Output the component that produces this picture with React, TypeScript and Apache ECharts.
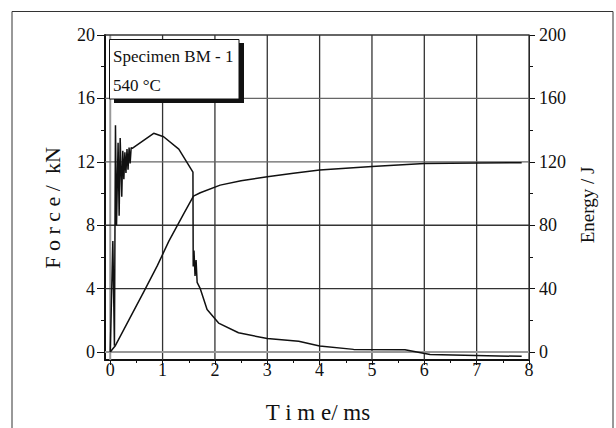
import React, { useEffect, useRef } from "react";
import * as echarts from "echarts";

// Force curve (kN) vs time (ms)
const forceTime = [
  0, 0.05, 0.08, 0.1, 0.12, 0.15, 0.17, 0.19, 0.22, 0.24, 0.26, 0.28, 0.3, 0.32, 0.34, 0.36, 0.38, 0.4,
  0.42, 0.83, 1.02, 1.31, 1.58, 1.585, 1.6, 1.62, 1.64, 1.66, 1.72, 1.85, 2.07, 2.45, 3.0, 3.6, 4.0,
  4.65, 5.63, 6.11, 7.86,
];
const forceValues = [
  0, 7.0, 0.4, 14.3, 8.0, 13.2, 8.6, 13.5, 9.8, 12.7, 10.9, 12.6, 11.3, 12.8, 11.5, 12.9, 11.9, 12.9,
  12.85, 13.8, 13.58, 12.8, 11.35, 5.4, 6.4, 4.8, 5.8, 4.4, 4.0, 2.68, 1.83, 1.22, 0.85, 0.68, 0.38,
  0.17, 0.15, -0.16, -0.27,
];

// Energy curve (J) vs time (ms)
const energyTime = [0, 0.1, 0.4, 0.64, 0.9, 1.12, 1.4, 1.59, 1.72, 2.1, 2.5, 3.0, 3.5, 4.0, 4.5, 5.0, 5.5, 6.0, 7.0, 7.86];
const energyValues = [0, 4.2, 23, 38, 54.5, 70, 87, 98.4, 100.5, 105.3, 108, 110.6, 112.8, 114.8, 116, 117, 118, 118.9, 119.3, 119.4];

// Tick values
const timeTicks = [0, 1, 2, 3, 4, 5, 6, 7, 8];
const timeMinorTicks = [0.5, 1.5, 2.5, 3.5, 4.5, 5.5, 6.5, 7.5];
const forceTicks = [0, 4, 8, 12, 16, 20];
const forceMinorTicks = [2, 6, 10, 14, 18];
const energyTicks = [0, 40, 80, 120, 160, 200];
const energyMinorTicks = [20, 60, 100, 140, 180];

const legendLine1 = "Specimen BM - 1";
const legendLine2 = "540 °C";

const FONT = "Liberation Serif";
const INK = "#111";
const X_MIN = -0.1;
const X_MAX = 8;
const F_MIN = -0.5;
const F_MAX = 20;

export default function App() {
  const ref = useRef<HTMLDivElement>(null);

  useEffect(() => {
    if (!ref.current) return;
    const chart = echarts.init(ref.current, null, { renderer: "svg" });

    const forceData = forceTime.map((t, i) => [t, forceValues[i]]);
    const energyData = energyTime.map((t, i) => [t, energyValues[i]]);

    const labelStyle = { fontSize: 18, fontFamily: FONT, color: INK };

    // grid lines drawn by a custom series, through the axis scales
    const gridRender = (params: any, api: any) => {
      if (params.dataIndex !== 0) return null;
      const children: any[] = [];
      timeTicks.forEach((v) => {
        const p1 = api.coord([v, F_MIN]);
        const p2 = api.coord([v, F_MAX]);
        children.push({
          type: "line",
          shape: { x1: p1[0], y1: p1[1], x2: p2[0], y2: p2[1] },
          style: { stroke: v === 0 ? "#999" : "#333", lineWidth: v === 0 ? 2 : 1.3 },
        });
      });
      forceTicks.forEach((v) => {
        const p1 = api.coord([X_MIN, v]);
        const p2 = api.coord([X_MAX, v]);
        children.push({
          type: "line",
          shape: { x1: p1[0], y1: p1[1], x2: p2[0], y2: p2[1] },
          style: { stroke: v === 0 ? "#999" : v === 12 || v === 16 ? "#666" : "#333", lineWidth: v === 0 ? 2 : 1.3 },
        });
      });
      return { type: "group", children };
    };

    const minorAxis = (min: number, max: number, position: string, values: number[], length: number) => ({
      type: "value",
      min,
      max,
      position,
      axisLine: { show: false, onZero: false },
      axisTick: { show: true, length, customValues: values, lineStyle: { color: INK, width: 1 } },
      axisLabel: { show: false },
      splitLine: { show: false },
    });

    chart.setOption({
      animation: false,
      grid: { left: 105, right: 87, top: 35, bottom: 68, containLabel: false },
      xAxis: [
        {
          type: "value",
          min: X_MIN,
          max: X_MAX,
          position: "bottom",
          axisLine: { show: true, onZero: false, lineStyle: { color: INK, width: 2 } },
          axisTick: { show: true, length: 5, customValues: timeTicks, lineStyle: { color: INK, width: 1 } },
          axisLabel: { show: true, customValues: timeTicks, margin: 1, ...labelStyle },
          splitLine: { show: false },
        },
        minorAxis(X_MIN, X_MAX, "bottom", timeMinorTicks, 3),
      ],
      yAxis: [
        {
          type: "value",
          min: F_MIN,
          max: F_MAX,
          position: "left",
          axisLine: { show: true, onZero: false, lineStyle: { color: INK, width: 2 } },
          axisTick: { show: true, length: 8, customValues: forceTicks, lineStyle: { color: INK, width: 1 } },
          axisLabel: { show: true, customValues: forceTicks, margin: 10, ...labelStyle },
          splitLine: { show: false },
        },
        minorAxis(F_MIN, F_MAX, "left", forceMinorTicks, 4),
        {
          type: "value",
          min: -5,
          max: 200,
          position: "right",
          axisLine: { show: true, onZero: false, lineStyle: { color: INK, width: 1 } },
          axisTick: { show: true, length: 6, customValues: energyTicks, lineStyle: { color: INK, width: 1 } },
          axisLabel: { show: true, customValues: energyTicks, margin: 10, ...labelStyle },
          splitLine: { show: false },
        },
        minorAxis(-5, 200, "right", energyMinorTicks, 4),
      ],
      series: [
        {
          name: "grid",
          type: "custom",
          xAxisIndex: 0,
          yAxisIndex: 0,
          silent: true,
          clip: false,
          z: 1,
          data: [[0, 0]],
          renderItem: gridRender,
        },
        {
          name: "Force",
          type: "line",
          xAxisIndex: 0,
          yAxisIndex: 0,
          data: forceData,
          showSymbol: false,
          symbol: "none",
          lineStyle: { color: INK, width: 1.5 },
          z: 3,
        },
        {
          name: "Energy",
          type: "line",
          xAxisIndex: 0,
          yAxisIndex: 2,
          data: energyData,
          showSymbol: false,
          symbol: "none",
          lineStyle: { color: INK, width: 1.5 },
          z: 3,
        },
      ],
      graphic: [
        {
          type: "polyline",
          silent: true,
          shape: { points: [[12, 440], [12, 11.5], [613, 11.5], [613, 440]] },
          style: { fill: null, stroke: "#333", lineWidth: 1 },
        },
        {
          type: "rect",
          z: 100,
          shape: { x: 114, y: 43, width: 130, height: 60 },
          style: { fill: "#111", stroke: null },
        },
        {
          type: "rect",
          z: 101,
          shape: { x: 109.5, y: 39.5, width: 129.5, height: 59.5 },
          style: { fill: "#fff", stroke: INK, lineWidth: 1 },
        },
        {
          type: "text",
          z: 102,
          x: 113,
          y: 56,
          style: { text: legendLine1, fontSize: 17, fontFamily: FONT, fill: INK, align: "left", verticalAlign: "middle" },
        },
        {
          type: "text",
          z: 102,
          x: 113,
          y: 85,
          style: { text: legendLine2, fontSize: 17, fontFamily: FONT, fill: INK, align: "left", verticalAlign: "middle" },
        },
        {
          type: "text",
          x: 52,
          y: 208,
          rotation: Math.PI / 2,
          style: { text: "F o r c e /  kN", fontSize: 22, fontFamily: FONT, fill: INK, align: "center", verticalAlign: "middle" },
        },
        {
          type: "text",
          x: 587,
          y: 205,
          rotation: Math.PI / 2,
          style: { text: "Energy / J", fontSize: 19, fontFamily: FONT, fill: INK, align: "center", verticalAlign: "middle" },
        },
        {
          type: "text",
          x: 318,
          y: 412,
          style: { text: "T i m e/ ms", fontSize: 23, fontFamily: FONT, fill: INK, align: "center", verticalAlign: "middle" },
        },
      ],
    });

    return () => {
      chart.dispose();
    };
  }, []);

  return (
    <div
      ref={ref}
      style={{ position: "fixed", left: 0, top: 0, width: 616, height: 428, background: "#fff" }}
    />
  );
}
